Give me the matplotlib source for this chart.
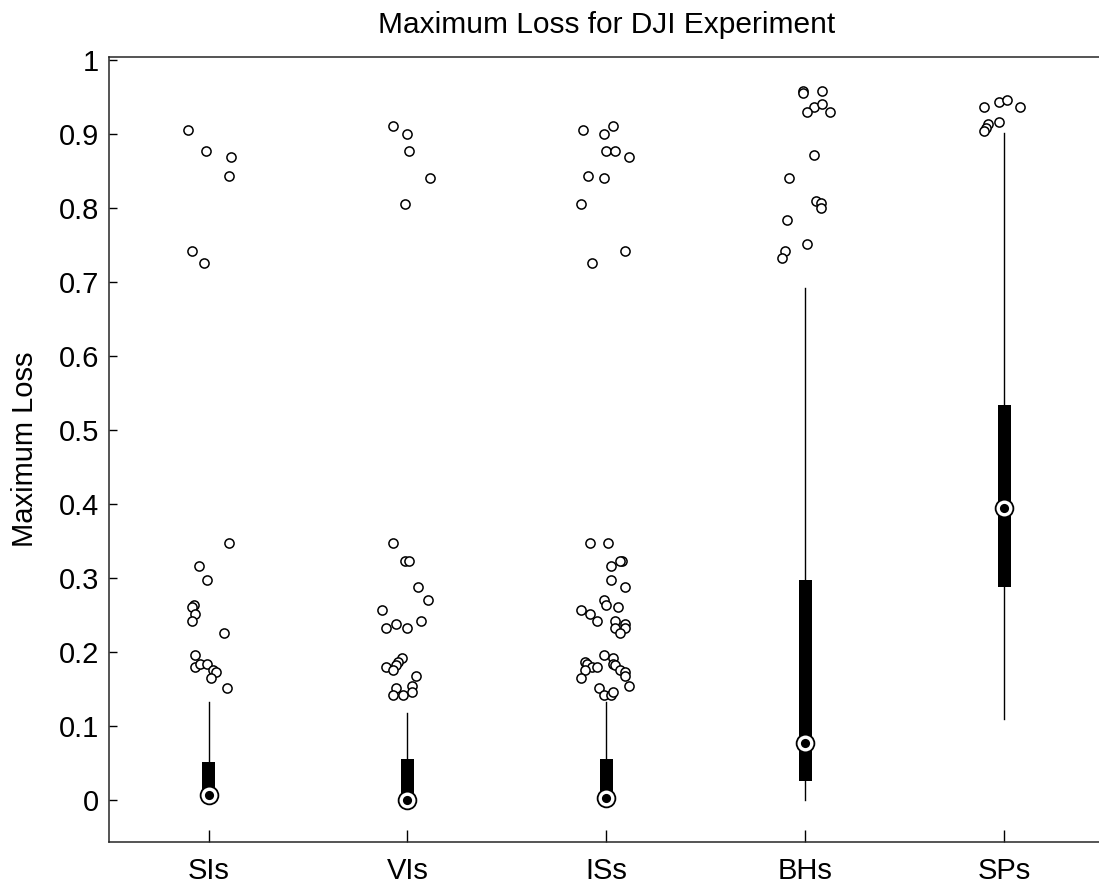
import matplotlib
matplotlib.use("Agg")
import matplotlib.pyplot as plt

plt.rcParams['font.family'] = ['Liberation Sans', 'DejaVu Sans']

groups = ["SIs", "VIs", "ISs", "BHs", "SPs"]

# box statistics per method
whisker_low = [0.0, 0.0, 0.0, 0.0007, 0.1095]
q1 = [0.0, 0.0, 0.0, 0.026, 0.2885]
medians = [0.007, 0.0007, 0.004, 0.078, 0.3954]
q3 = [0.052, 0.0557, 0.0557, 0.2983, 0.534]
whisker_high = [0.1335, 0.118, 0.1335, 0.6924, 0.9025]

# outlier values and their horizontal jitter (pixels of group spacing)
out_sis = [0.906, 0.878, 0.869, 0.844, 0.742, 0.726,
           0.3476, 0.317, 0.298, 0.264, 0.261, 0.252, 0.242, 0.227, 0.196,
           0.181, 0.184, 0.184, 0.177, 0.174, 0.165, 0.152]
jit_sis = [-20.7, -2.4, 22.6, 20.6, -16.4, -4.7,
           20.6, -9.4, -2.0, -14.4, -16.4, -14.0, -16.4, 16.0, -13.7,
           -13.7, -8.7, -1.7, 4.3, 7.3, 2.3, 18.3]

out_vis = [0.912, 0.900, 0.878, 0.841, 0.806,
           0.3476, 0.323, 0.323, 0.2885, 0.2705, 0.258, 0.239, 0.233, 0.233,
           0.242, 0.193, 0.187, 0.183, 0.180, 0.176, 0.168, 0.155, 0.152,
           0.143, 0.143, 0.146]
jit_vis = [-14.4, -0.4, 2.0, 22.6, -2.4,
           -14.4, -2.7, 1.6, 11.0, 20.3, -25.7, -11.7, -21.0, -0.4,
           13.3, -5.0, -9.4, -11.7, -21.0, -14.0, 9.0, 4.3, -11.7,
           -14.4, -4.7, 4.3]

out_iss = [0.906, 0.912, 0.900, 0.878, 0.878, 0.869, 0.844, 0.841, 0.806,
           0.742, 0.726,
           0.3476, 0.3476, 0.323, 0.323, 0.317, 0.298, 0.2885, 0.2705, 0.264,
           0.261, 0.258, 0.252, 0.242, 0.242, 0.239, 0.233, 0.233, 0.227,
           0.196, 0.193, 0.187, 0.184, 0.181, 0.181, 0.184, 0.183, 0.177,
           0.174, 0.168, 0.177, 0.165, 0.155, 0.152, 0.143, 0.143, 0.146]
jit_iss = [-23.0, 6.7, -2.6, -0.3, 9.0, 22.7, -18.3, -2.3, -25.6,
           18.4, -14.0,
           -16.3, 2.0, 16.0, 13.4, 4.4, 4.4, 18.0, -2.6, -0.3,
           11.4, -25.6, -16.3, -9.3, 9.0, 18.4, 9.0, 18.4, 13.7,
           -2.6, 6.7, -21.0, -19.0, -14.0, -9.3, 6.7, 9.0, 13.7,
           18.4, 18.4, -21.0, -25.6, 22.7, -7.3, -2.6, 4.4, 6.7]

out_bhs = [0.959, 0.956, 0.959, 0.9375, 0.941, 0.931, 0.931, 0.872, 0.841,
           0.810, 0.807, 0.801, 0.785, 0.752, 0.742, 0.733]
jit_bhs = [-2.7, -2.7, 16.0, 9.0, 16.0, 2.0, 25.0, 9.0, -16.4,
           11.0, 15.6, 15.6, -18.7, 2.0, -20.7, -23.0]

out_sps = [0.9376, 0.9435, 0.9466, 0.9376, 0.9138, 0.9165, 0.9088, 0.9043]
jit_sps = [-20.6, -5.0, 2.4, 15.7, -16.0, -5.0, -18.3, -20.6]

outliers = [out_sis, out_vis, out_iss, out_bhs, out_sps]
jitters = [jit_sis, jit_vis, jit_iss, jit_bhs, jit_sps]
group_spacing_px = 199.0

fig = plt.figure(figsize=(10.99, 8.86), dpi=100)
ax = fig.add_axes([109 / 1099, 44 / 886, 995 / 1099, 785 / 886])

positions = list(range(1, len(groups) + 1))
stats = [dict(med=m, q1=a, q3=b, whislo=lo, whishi=hi, fliers=[])
         for m, a, b, lo, hi in zip(medians, q1, q3, whisker_low, whisker_high)]

ax.bxp(stats, positions=positions, widths=0.064, patch_artist=True,
       showcaps=False, showfliers=False,
       boxprops=dict(facecolor='black', edgecolor='black', linewidth=0),
       whiskerprops=dict(color='black', linewidth=1.0),
       medianprops=dict(linewidth=0), manage_ticks=False, zorder=2)

for pos, vals, jit in zip(positions, outliers, jitters):
    xs = [pos + j / group_spacing_px for j in jit]
    ax.plot(xs, vals, ls='none', marker='o', ms=6.6, mfc='white',
            mec='black', mew=1.1, zorder=3)

# median markers: ringed circle with a dot
ax.plot(positions, medians, ls='none', marker='o', ms=12.8, mfc='white',
        mec='black', mew=1.3, zorder=4)
ax.plot(positions, medians, ls='none', marker='o', ms=6.6, mfc='black',
        mec='black', mew=0, zorder=5)

ax.set_xlim(0.5, 5.5)
ax.set_ylim(-0.0561, 1.0047)
ax.set_xticks(positions)
ax.set_xticklabels(groups)
ax.set_yticks([0, 0.1, 0.2, 0.3, 0.4, 0.5, 0.6, 0.7, 0.8, 0.9, 1.0])
ax.set_yticklabels(['0', '0.1', '0.2', '0.3', '0.4', '0.5', '0.6', '0.7',
                    '0.8', '0.9', '1'])
ax.tick_params(axis='y', direction='in', length=6, width=1.0, labelsize=21,
               pad=7, right=False)
ax.tick_params(axis='x', direction='in', length=9, width=1.0, labelsize=21,
               pad=11, top=False)
for s in ax.spines.values():
    s.set_linewidth(1.1)
    s.set_color('#262626')

ax.set_ylabel('Maximum Loss', fontsize=21, labelpad=14)
ax.set_title('Maximum Loss for DJI Experiment', fontsize=21.5, pad=17)

fig.savefig('out.png', dpi=100)
